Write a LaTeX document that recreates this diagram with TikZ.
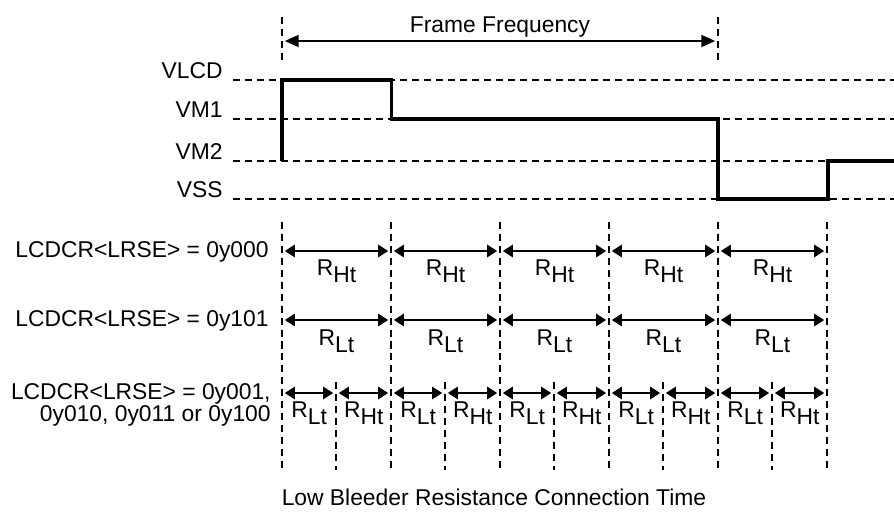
\documentclass[tikz,border=0pt]{standalone}
\usepackage{fontspec}
\setmainfont{Liberation Sans}
\usetikzlibrary{arrows.meta, positioning, calc}
\newcommand{\Rsub}[1]{R\raisebox{-4.5pt}{#1}}

\begin{document}
\begin{tikzpicture}[
    x=0.02cm, y=-0.02cm,
    font=\fontsize{13}{15}\selectfont,
    guide/.style={dash pattern=on 4pt off 2.8pt, line width=1.1pt},
    wave/.style={line width=1.8pt, line join=miter},
    span/.style={{Triangle[length=5.7pt,width=7pt]}-{Triangle[length=5.7pt,width=7pt]}, line width=1.1pt, shorten <=1.6pt, shorten >=1.6pt},
    period/.style={{Triangle[length=7.9pt,width=6.8pt]}-{Triangle[length=7.9pt,width=6.8pt]}, line width=1.1pt, shorten <=1.6pt, shorten >=1.6pt},
    level/.style={anchor=base east, inner sep=0pt},
    rowlabel/.style={anchor=base east, inner sep=0pt, align=right},
    res/.style={anchor=base, inner sep=0pt}
]
    \useasboundingbox (0,0) rectangle (894,515);

    % Voltage levels
    \node (vlcd) [level] at (223,78) {VLCD};
    \node (vm1) [level] at (223,117) {VM1};
    \node (vm2) [level] at (223,159) {VM2};
    \node (vss) [level] at (223,197) {VSS};
    \foreach \y in {80,119,161,199}
        \draw [guide] (233,\y) -- (894,\y);

    % Frame period
    \coordinate (f0) at (282,41);
    \coordinate (f1) at (718,41);
    \draw [guide] (282,17) -- (282,63);
    \draw [guide] (718,17) -- (718,63);
    \draw [period] (f0) -- (f1);
    \node (ff) [res] at (500,32) {Frame Frequency};

    % Waveform
    \draw [wave] (282,161) -- (282,80) -- (391.5,80) -- (391.5,119) -- (718,119)
        -- (718,199) -- (828,199) -- (828,161) -- (894,161);

    % Time slots
    \foreach \i in {0,...,5} {
        \coordinate (t\i) at ({282+109*\i},222);
        \coordinate (b\i) at ({282+109*\i},470);
        \draw [guide] (t\i) -- (b\i);
    }
    \foreach \i in {0,...,4} {
        \coordinate (m\i) at ({336+109*\i},382);
        \draw [guide] (m\i) -- ({336+109*\i},470);
    }

    % Row labels
    \node (row1) [rowlabel] at (269,257) {LCDCR<LRSE> = 0y000};
    \node (row2) [rowlabel] at (269,326) {LCDCR<LRSE> = 0y101};
    \node (row3) [rowlabel, font=\fontsize{13}{12.3}\selectfont] at (271,421.5)
        {LCDCR<LRSE> = 0y001,\\0y010, 0y011 or 0y100};

    % Resistance spans
    \foreach \i [evaluate=\i as \j using int(\i+1)] in {0,...,4} {
        \draw [span] (t\i |- 0,251) -- (t\j |- 0,251);
        \node (h\i) [res] at ({336.5+109*\i},275) {\Rsub{Ht}};
        \draw [span] (t\i |- 0,320) -- (t\j |- 0,320);
        \node (l\i) [res] at ({336.5+109*\i},345) {\Rsub{Lt}};
        \draw [span] (t\i |- 0,393) -- (m\i |- 0,393);
        \draw [span] (m\i |- 0,393) -- (t\j |- 0,393);
        \node (ll\i) [res] at ({309.25+109*\i},417) {\Rsub{Lt}};
        \node (hh\i) [res] at ({363.75+109*\i},417) {\Rsub{Ht}};
    }

    \node (lbr) [res] at (494,505) {Low Bleeder Resistance Connection Time};
\end{tikzpicture}
\end{document}
